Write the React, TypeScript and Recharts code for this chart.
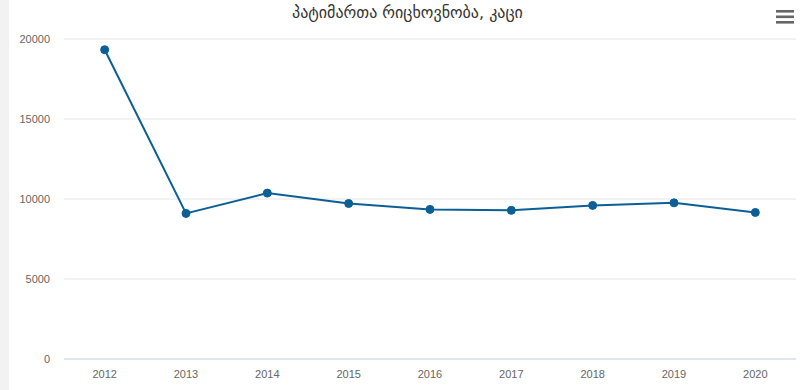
import React from "react";
import {CartesianGrid, Line, LineChart, XAxis, YAxis} from "recharts";

const years = ["2012", "2013", "2014", "2015", "2016", "2017", "2018", "2019", "2020"];
const prisoners = [19330, 9100, 10370, 9720, 9350, 9290, 9600, 9760, 9160];
const yTicks = [0, 5000, 10000, 15000, 20000];
const title = "პატიმართა რიცხოვნობა, კაცი";

const data = years.map((year, i) => ({year, value: prisoners[i]}));

const tickStyle = {fontSize: 11, fill: "#666666", fontFamily: "'Liberation Sans', Arial, sans-serif"};

const MenuIcon: React.FC = () => (
  <svg width={18} height={14} style={{position: "absolute", left: 776, top: 10}}>
    <rect x={0} y={0} width={18} height={2.6} fill="#666666"/>
    <rect x={0} y={5.5} width={18} height={2.6} fill="#666666"/>
    <rect x={0} y={11} width={18} height={2.6} fill="#666666"/>
  </svg>
);

export default function App() {
  return (
    <div style={{position: "absolute", left: 0, top: 0, width: 806, height: 390, background: "#f2f2f2", overflow: "hidden"}}>
      <div style={{position: "absolute", left: 9, top: 0, width: 797, height: 390, background: "#ffffff"}}>
        <LineChart width={797} height={390} data={data} margin={{top: 39, right: 10, bottom: 0, left: 0}}>
          <CartesianGrid vertical={false} stroke="#e6e6e6"/>
          <XAxis
            dataKey="year"
            scale="band"
            height={31}
            axisLine={{stroke: "#ccd6eb"}}
            tickLine={false}
            tickSize={0}
            tickMargin={11}
            tick={tickStyle}
            interval={0}
          />
          <YAxis
            width={55}
            domain={[0, 20000]}
            ticks={yTicks}
            axisLine={false}
            tickLine={false}
            tickSize={0}
            tickMargin={14}
            tick={tickStyle}
          />
          <Line
            type="linear"
            dataKey="value"
            stroke="#0b5f97"
            strokeWidth={2}
            dot={{r: 4, fill: "#0b5f97", stroke: "#0b5f97", strokeWidth: 1}}
            isAnimationActive={false}
          />
        </LineChart>
      </div>
      <div style={{position: "absolute", left: 9, top: 3, width: 797, textAlign: "center", fontFamily: "'DejaVu Sans', sans-serif", fontSize: 16, color: "#333333", whiteSpace: "nowrap"}}>
        {title}
      </div>
      <MenuIcon/>
    </div>
  );
}
